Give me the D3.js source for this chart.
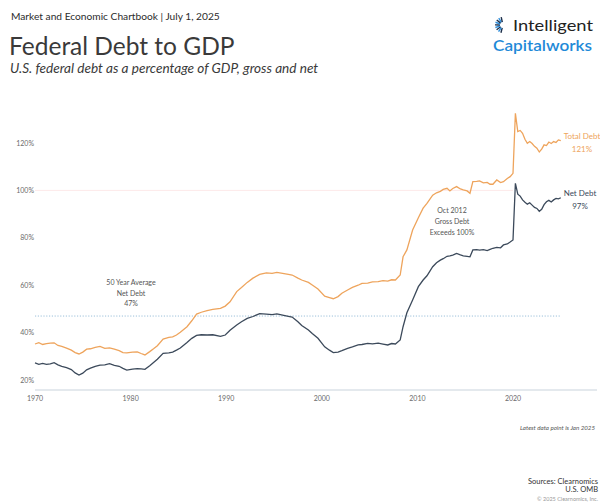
<!DOCTYPE html>
<html>
<head>
<meta charset="utf-8">
<script src="https://cdn.jsdelivr.net/npm/d3@7/dist/d3.min.js"></script>
<style>
  html, body { margin: 0; padding: 0; background: #fff; }
  svg { display: block; font-family: Lato, "Open Sans", sans-serif; }
</style>
</head>
<body>
<svg id="chart" width="600" height="503"></svg>
<script>
// ── data ────────────────────────────────────────────
const years = [
  1970.0, 1970.4, 1970.8, 1971.2, 1971.6, 1972.0, 1972.4, 1972.8, 1973.3, 1973.8,
  1974.2, 1974.6, 1975.0, 1975.4, 1975.8, 1976.3, 1976.8, 1977.3, 1977.8, 1978.3,
  1978.8, 1979.2, 1979.6, 1980.2, 1980.7, 1981.1, 1981.5, 1982.0, 1982.4, 1982.8,
  1983.4, 1984.0, 1984.4, 1984.8, 1985.2, 1985.9, 1986.4, 1986.9, 1987.4, 1988.0,
  1988.6, 1989.4, 1989.9, 1990.4, 1991.1, 1991.6, 1992.2, 1992.8, 1993.5, 1994.2,
  1994.8, 1995.3, 1995.9, 1996.5, 1996.9, 1997.5, 1997.9, 1998.6, 1999.0, 1999.6,
  2000.3, 2000.8, 2001.2, 2001.7, 2002.1, 2002.7, 2003.2, 2003.8, 2004.2, 2004.8,
  2005.3, 2005.9, 2006.4, 2006.9, 2007.3, 2007.7, 2008.2, 2008.5, 2008.9, 2009.5,
  2010.1, 2010.6, 2011.0, 2011.6, 2012.0, 2012.4, 2012.7, 2013.1, 2013.4, 2013.7,
  2014.1, 2014.5, 2014.8, 2015.2, 2015.5, 2015.8, 2016.2, 2016.5, 2016.9, 2017.3,
  2017.6, 2017.9, 2018.3, 2018.7, 2019.0, 2019.4, 2019.7, 2020.0, 2020.25, 2020.5,
  2020.75, 2021.0, 2021.25, 2021.5, 2021.75, 2022.0, 2022.25, 2022.5, 2022.75, 2023.0,
  2023.25, 2023.5, 2023.75, 2024.0, 2024.25, 2024.5, 2024.75, 2025.0
];

const grossDebt = [
  35.2, 35.8, 35.0, 35.4, 35.6, 35.7, 34.6, 34.2, 33.5, 32.6,
  31.6, 31.0, 31.8, 33.0, 33.2, 33.8, 34.2, 33.4, 33.6, 33.0,
  32.4, 31.6, 31.5, 31.8, 31.9, 31.2, 30.6, 32.0, 33.2, 34.5,
  37.3, 38.0, 38.2, 39.0, 40.2, 42.5, 45.0, 47.8, 48.6, 49.3,
  49.8, 50.2, 51.2, 53.0, 57.3, 59.0, 61.2, 63.0, 64.6, 65.2,
  65.0, 65.4, 65.0, 64.6, 64.3, 63.0, 62.2, 61.2, 60.1, 58.4,
  55.4, 54.8, 54.3, 55.2, 56.6, 58.0, 59.1, 60.0, 60.8, 60.9,
  61.4, 61.5, 61.9, 61.7, 62.3, 62.2, 64.3, 72.0, 74.9, 83.3,
  88.5, 92.5, 94.5, 98.0, 99.0, 99.6, 100.4, 100.9, 99.8, 100.8,
  101.6, 100.6, 100.2, 99.8, 98.8, 103.7, 103.8, 104.0, 103.2, 103.4,
  102.6, 102.6, 104.4, 103.3, 103.7, 105.0, 105.8, 107.2, 132.5, 124.8,
  125.3, 124.1, 121.6, 119.9, 120.6, 119.8, 118.6, 117.8, 116.2, 117.4,
  119.2, 118.9, 120.4, 119.8, 120.6, 120.2, 121.3, 121.0
];

const netDebt = [
  27.2, 26.6, 27.0, 26.6, 26.8, 27.3, 26.4, 25.8, 25.2, 24.4,
  23.0, 22.1, 22.9, 24.3, 25.0, 25.8, 26.3, 26.4, 26.9, 26.2,
  25.8, 24.9, 24.2, 24.6, 24.8, 24.7, 24.5, 26.0, 27.4, 28.8,
  31.3, 31.5, 31.8, 32.6, 33.5, 35.8, 37.6, 38.8, 39.1, 39.0,
  39.1, 38.4, 39.0, 41.0, 43.2, 44.6, 46.0, 46.8, 48.0, 47.8,
  47.6, 47.9, 47.4, 46.9, 46.6, 44.6, 43.0, 41.1, 39.6, 37.6,
  34.0, 32.6, 31.6, 31.8, 32.4, 33.4, 34.0, 34.8, 35.0, 35.5,
  35.3, 35.6, 35.2, 34.8, 35.4, 35.2, 36.9, 42.5, 48.4, 53.8,
  59.4, 62.2, 64.0, 67.8, 69.5, 70.6, 71.2, 72.2, 72.4, 72.7,
  73.4, 72.8, 72.4, 72.2, 72.0, 74.9, 75.0, 74.8, 75.0, 74.6,
  75.1, 75.6, 76.0, 75.8, 77.0, 77.4, 78.2, 79.1, 103.0, 98.4,
  97.6, 96.0, 95.0, 94.2, 94.8, 93.8, 92.8, 92.4, 91.2, 92.0,
  94.0, 95.2, 95.8, 95.1, 96.0, 96.6, 96.4, 96.9
];

const yTicks = [20, 40, 60, 80, 100, 120];
const xTicks = [1970, 1980, 1990, 2000, 2010, 2020];
const netAverage = 47;

const avgNote = ["50 Year Average", "Net Debt", "47%"];
const grossNote = ["Oct 2012", "Gross Debt", "Exceeds 100%"];
const grossLabel = ["Total Debt", "121%"];
const netLabel = ["Net Debt", "97%"];

// ── colours ─────────────────────────────────────────
const GROSS = "#eea45c";
const NET = "#3c4a5b";
const TEXT = "#3a3a3a";
const MUTED = "#6b6b6b";

const svg = d3.select("#chart");

// ── scales ──────────────────────────────────────────
const x = d3.scaleLinear().domain([1970, 2020]).range([35, 513]);
const y = d3.scaleLinear().domain([15.8, 120]).range([390, 143]);

// ── header ──────────────────────────────────────────
svg.append("text")
  .attr("x", 11).attr("y", 20)
  .attr("font-size", 10.2).attr("fill", "#2b2b2b")
  .text("Market and Economic Chartbook | July 1, 2025");

svg.append("text")
  .attr("x", 9).attr("y", 55)
  .attr("font-size", 24.5).attr("fill", TEXT)
  .text("Federal Debt to GDP");

svg.append("text")
  .attr("x", 10).attr("y", 73)
  .attr("font-size", 13.6).attr("font-style", "italic").attr("fill", TEXT)
  .text("U.S. federal debt as a percentage of GDP, gross and net");

// logo
const logo = svg.append("g").attr("transform", "translate(503,25)");
d3.range(9).forEach(i => {
  const a = (105 + i * 19) * Math.PI / 180;
  logo.append("line")
    .attr("x1", Math.cos(a) * 3).attr("y1", Math.sin(a) * 3)
    .attr("x2", Math.cos(a) * 8).attr("y2", Math.sin(a) * 8)
    .attr("stroke", i % 2 ? "#2f8fdc" : "#1d2f4a")
    .attr("stroke-width", 1.4);
});
svg.append("text")
  .attr("x", 513).attr("y", 31)
  .attr("font-size", 16).attr("fill", "#222")
  .attr("textLength", 80).attr("lengthAdjust", "spacingAndGlyphs")
  .text("Intelligent");
svg.append("text")
  .attr("x", 493).attr("y", 51)
  .attr("font-size", 16).attr("font-weight", 600).attr("fill", "#1f8ad8")
  .attr("textLength", 99).attr("lengthAdjust", "spacingAndGlyphs")
  .text("Capitalworks");

// ── axes ────────────────────────────────────────────
svg.append("line")
  .attr("x1", x(1970)).attr("x2", 597)
  .attr("y1", y(15.8)).attr("y2", y(15.8))
  .attr("stroke", "#c9d3dc").attr("stroke-width", 1);

svg.append("line")
  .attr("x1", x(1970)).attr("x2", x(2020))
  .attr("y1", y(100)).attr("y2", y(100))
  .attr("stroke", "#fdeaea").attr("stroke-width", 1);

svg.append("g")
  .selectAll("text")
  .data(yTicks)
  .join("text")
  .attr("x", 34).attr("y", d => y(d) + 2.5)
  .attr("text-anchor", "end")
  .attr("font-size", 7).attr("fill", MUTED)
  .text(d => d + "%");

svg.append("g")
  .selectAll("text")
  .data(xTicks)
  .join("text")
  .attr("x", d => x(d)).attr("y", 401)
  .attr("text-anchor", "middle")
  .attr("font-size", 7).attr("fill", MUTED)
  .text(d => d);

// 50-year average line
svg.append("line")
  .attr("x1", x(1970)).attr("x2", x(years[years.length - 1]))
  .attr("y1", y(netAverage)).attr("y2", y(netAverage))
  .attr("stroke", "#9cc0da").attr("stroke-width", 1)
  .attr("stroke-dasharray", "1.2,1.6");

// ── lines ───────────────────────────────────────────
const line = vals => d3.line()
  .x((d, i) => x(years[i]))
  .y(d => y(d))(vals);

svg.append("path")
  .attr("d", line(grossDebt))
  .attr("fill", "none").attr("stroke", GROSS).attr("stroke-width", 1.3);

svg.append("path")
  .attr("d", line(netDebt))
  .attr("fill", "none").attr("stroke", NET).attr("stroke-width", 1.3);

// ── annotations ─────────────────────────────────────
function note(lines, cx, y0, step, color, size) {
  svg.append("g")
    .selectAll("text")
    .data(lines)
    .join("text")
    .attr("x", cx).attr("y", (d, i) => y0 + i * step)
    .attr("text-anchor", "middle")
    .attr("font-size", size).attr("fill", color)
    .text(d => d);
}

note(avgNote, 131, 285, 10.5, "#555", 7);
note(grossNote, 452, 213, 11, "#555", 7);
note(grossLabel, 582, 139, 13, GROSS, 8);
note(netLabel, 580, 196, 13, NET, 8);

// ── footer ──────────────────────────────────────────
svg.append("text")
  .attr("x", 595).attr("y", 430).attr("text-anchor", "end")
  .attr("font-size", 6.2).attr("font-style", "italic").attr("fill", "#555")
  .text("Latest data point is Jan 2025");

svg.append("text")
  .attr("x", 598).attr("y", 484).attr("text-anchor", "end")
  .attr("font-size", 7.5).attr("fill", "#333")
  .text("Sources: Clearnomics");
svg.append("text")
  .attr("x", 598).attr("y", 492).attr("text-anchor", "end")
  .attr("font-size", 7.5).attr("fill", "#333")
  .text("U.S. OMB");
svg.append("text")
  .attr("x", 598).attr("y", 501).attr("text-anchor", "end")
  .attr("font-size", 5.5).attr("fill", "#999")
  .text("© 2025 Clearnomics, Inc.");
</script>
</body>
</html>
